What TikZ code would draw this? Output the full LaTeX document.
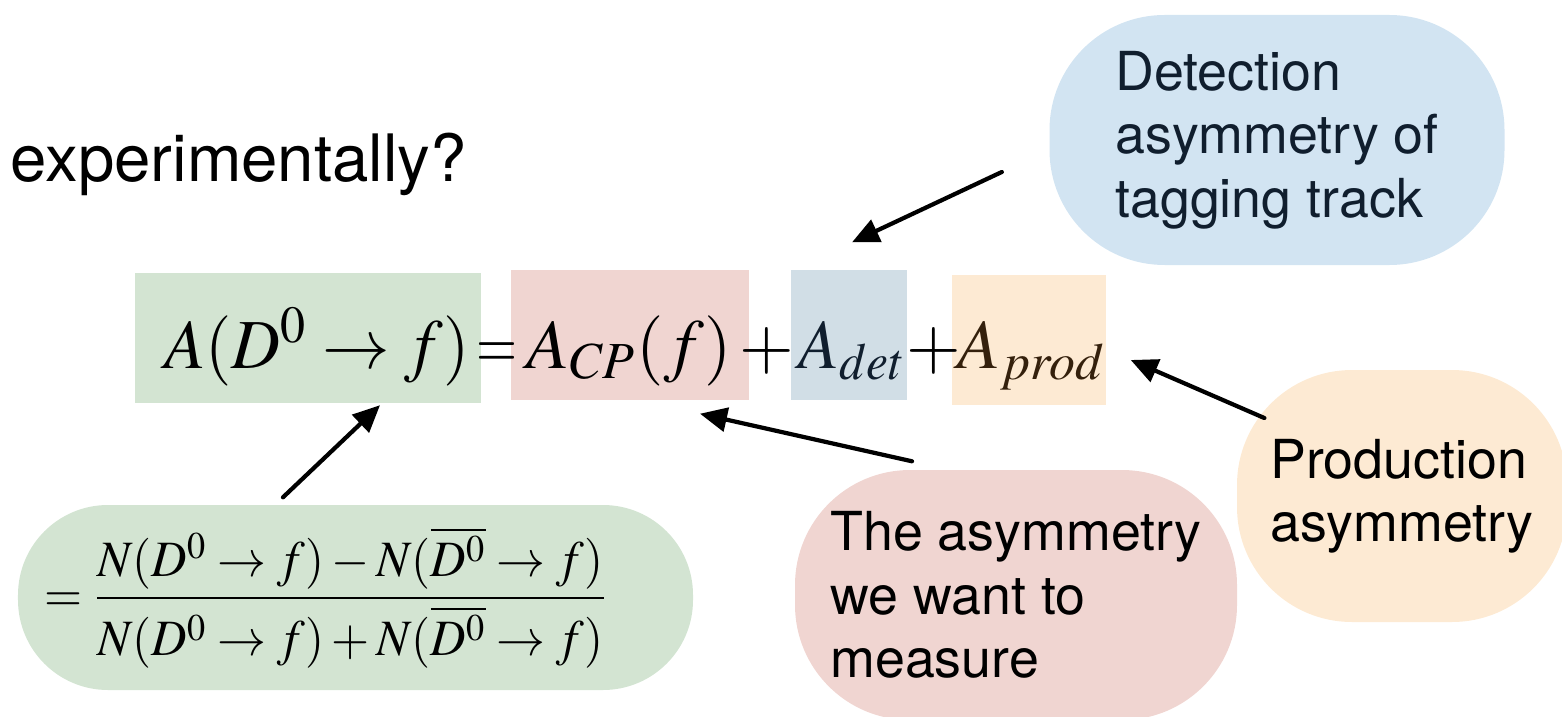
\documentclass[tikz,border=0pt]{standalone}
\usepackage{mathptmx}
\usepackage[no-math]{fontspec}
\setsansfont{TeX Gyre Heros}
\usetikzlibrary{arrows.meta}
\usepackage{xcolor}
\definecolor{lhsgreen}{RGB}{211,228,210}
\definecolor{cppink}{RGB}{240,213,209}
\definecolor{detgray}{RGB}{209,222,230}
\definecolor{prodorange}{RGB}{253,234,211}
\definecolor{detblue}{RGB}{210,228,242}
\definecolor{navytext}{RGB}{16,30,46}
\definecolor{browntext}{RGB}{52,32,12}

\begin{document}
\begin{tikzpicture}[>={Triangle[length=2.7mm,width=2.4mm]},line cap=round,
  eqbox/.style={inner sep=0pt,minimum height=1.3cm},
  eqtxt/.style={anchor=base,inner sep=0pt,font=\fontsize{20}{24}\selectfont},
  blob/.style={rounded corners=1.15cm,minimum height=2.5cm,align=left,inner sep=0pt,font=\sffamily\fontsize{15.3}{18}\selectfont},
  pointer/.style={->,line width=1.2pt}]
\useasboundingbox (0,0) rectangle (15.62,-7.16);
\node[anchor=base west,inner sep=0pt,font=\sffamily\fontsize{18.6}{22}\selectfont] (question) at (0.10,-1.81) {experimentally?};
% coloured terms of the asymmetry
\node[eqbox,fill=lhsgreen,minimum width=3.46cm] (lhsBox) at (3.08,-3.375) {};
\node[eqbox,fill=cppink,minimum width=2.38cm] (cpBox) at (6.30,-3.35) {};
\node[eqbox,fill=detgray,minimum width=1.16cm] (detBox) at (8.49,-3.35) {};
\node[eqbox,fill=prodorange,minimum width=1.54cm] (prodBox) at (10.29,-3.40) {};
\node[eqtxt,xscale=0.96] (lhsTxt) at (3.17,-3.68) {$A(D^0\to f)$};
\node[eqtxt,xscale=0.75] (eqSign) at (4.97,-3.68) {$=$};
\node[eqtxt] (cpTxt) at (6.29,-3.68) {$A_{CP}(f)$};
\node[eqtxt] (plusA) at (7.67,-3.68) {$+$};
\node[eqtxt,text=navytext,xscale=0.95] (detTxt) at (8.52,-3.68) {$A_{det}$};
\node[eqtxt] (plusB) at (9.34,-3.68) {$+$};
\node[eqtxt,text=browntext] (prodTxt) at (10.32,-3.68) {$A_{prod}$};
% explanations
\node[blob,fill=detblue,text=navytext,minimum width=4.55cm] (detBlob) at (12.77,-1.40) {Detection\\asymmetry of\\tagging track};
\node[blob,fill=cppink,minimum width=4.42cm] (measBlob) at (10.16,-5.95) {The asymmetry\\we want to\\measure};
\node[blob,fill=prodorange,minimum width=3.3cm,minimum height=2.52cm] (prodBlob) at (14.02,-4.96) {Production\\asymmetry};
\node[fill=lhsgreen,rounded corners=0.9cm,minimum width=6.75cm,minimum height=1.85cm] (fracPill) at (3.555,-5.975) {};
\node[inner sep=0pt,xscale=0.96,font=\fontsize{14.5}{17}\selectfont] (fracTxt) at (3.26,-5.975) {$\displaystyle =\frac{N(D^0\to f)-N(\overline{D^0}\to f)}{N(D^0\to f)+N(\overline{D^0}\to f)}$};
\draw[pointer] ([shift={(-0.47,-0.32)}]detBlob.west) -- ([shift={(0.03,0.27)}]detBox.north);
\draw[pointer] ([shift={(0.28,0.78)}]prodBlob.west) -- ([shift={(0.24,-0.20)}]prodBox.east);
\draw[pointer] ([shift={(-1.04,0.08)}]measBlob.north) -- ([shift={(0.70,-0.13)}]cpBox.south);
\draw[pointer] ([shift={(-0.725,0.07)}]fracPill.north) -- ([shift={(0.72,-0.02)}]lhsBox.south);
\end{tikzpicture}
\end{document}
